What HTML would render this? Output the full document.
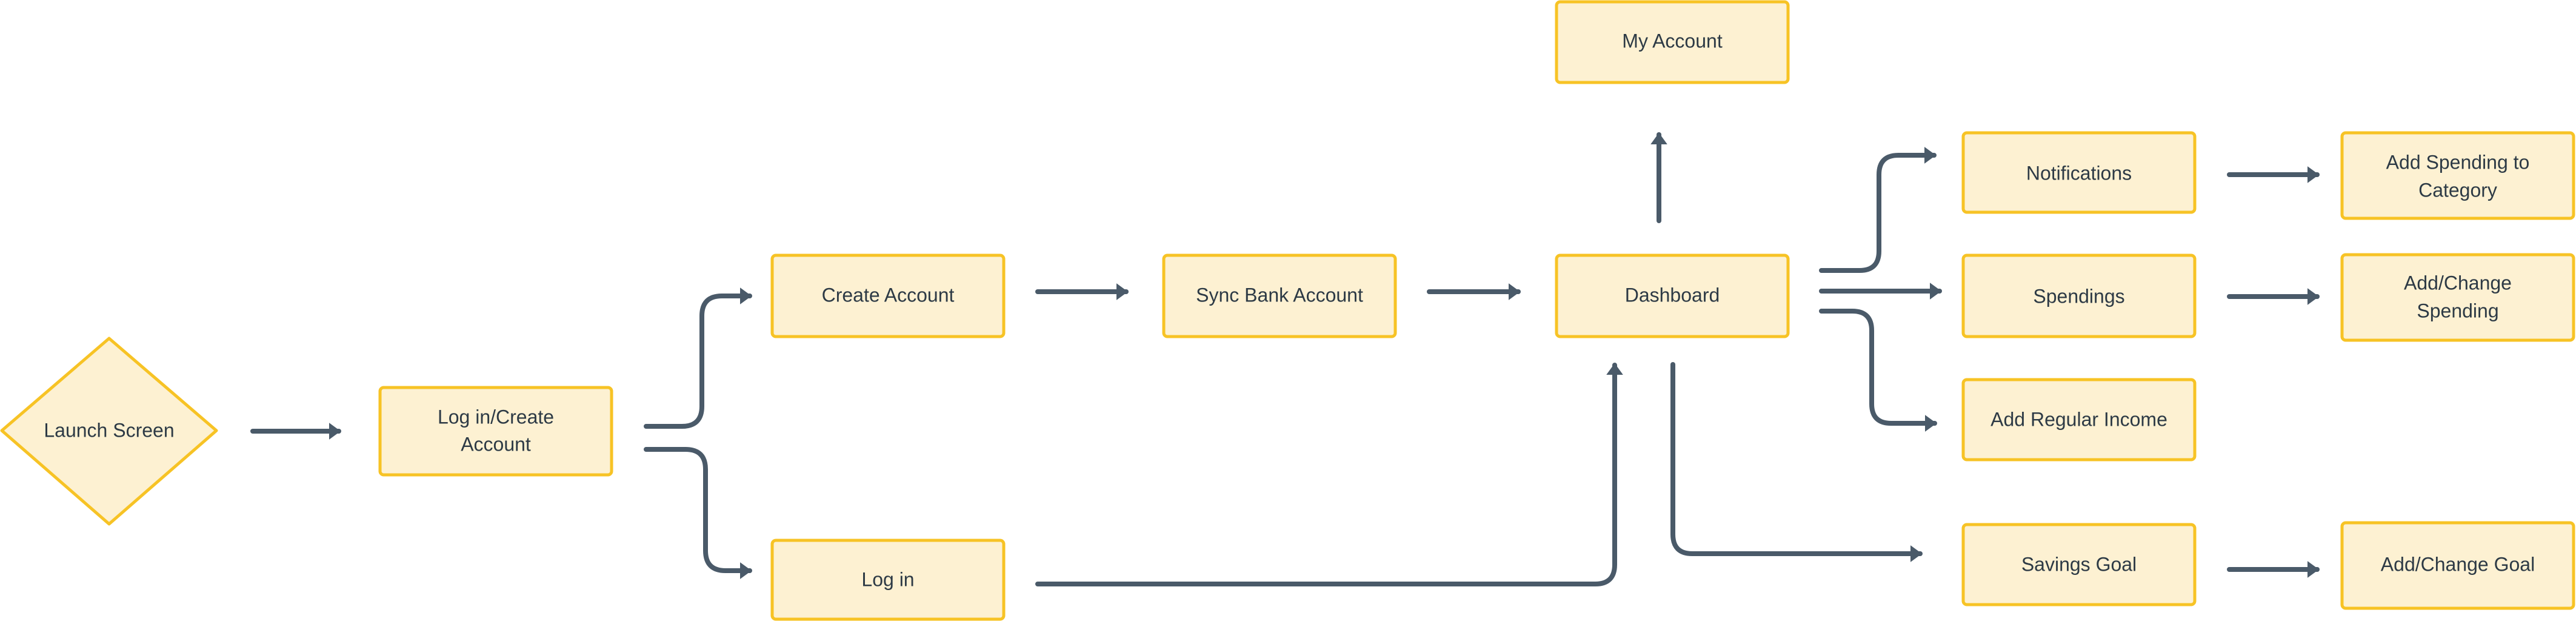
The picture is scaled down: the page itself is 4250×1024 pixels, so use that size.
<!DOCTYPE html>
<html><head><meta charset="utf-8"><style>
html,body{margin:0;padding:0;background:#fff;width:4250px;height:1024px;overflow:hidden}
svg text{font-family:"Liberation Sans",sans-serif;font-size:32px;fill:#2d3a45;text-anchor:middle;dominant-baseline:middle}
</style></head><body>
<svg width="4250" height="1024" viewBox="0 0 4250 1024" xmlns="http://www.w3.org/2000/svg">
<defs>
<marker id="a" markerWidth="6" markerHeight="6" refX="2.0" refY="3" orient="auto" markerUnits="strokeWidth">
<path d="M0,1.4 L2.2,3 L0,4.6 Z" fill="#4a5a69" stroke="#4a5a69" stroke-width="0.2" stroke-linejoin="round"/>
</marker>
</defs>
<g fill="#fdf1d2" stroke="#f7c325" stroke-width="5">
<path d="M180,558 L357,710 L180,864 L3,710 Z" stroke-linejoin="round"/>
<rect x="627" y="639" width="382" height="144" rx="6"/>
<rect x="1274" y="421" width="382" height="134" rx="6"/>
<rect x="1274" y="891" width="382" height="130" rx="6"/>
<rect x="1920" y="421" width="382" height="134" rx="6"/>
<rect x="2568" y="421" width="382" height="134" rx="6"/>
<rect x="2568" y="3" width="382" height="133" rx="6"/>
<rect x="3239" y="219" width="382" height="131" rx="6"/>
<rect x="3239" y="421" width="382" height="134" rx="6"/>
<rect x="3239" y="626" width="382" height="132" rx="6"/>
<rect x="3239" y="865" width="382" height="132" rx="6"/>
<rect x="3864" y="219" width="382" height="141" rx="6"/>
<rect x="3864" y="420" width="382" height="141" rx="6"/>
<rect x="3864" y="862" width="382" height="141" rx="6"/>
</g>
<g fill="none" stroke="#4a5a69" stroke-width="8" stroke-linecap="round" stroke-linejoin="round">
<path d="M417,711 H559" marker-end="url(#a)"/>
<path d="M1066,703 H1125 Q1158,703 1158,670 V521 Q1158,488 1191,488 H1237" marker-end="url(#a)"/>
<path d="M1066,741 H1131 Q1164,741 1164,774 V908 Q1164,941 1197,941 H1237" marker-end="url(#a)"/>
<path d="M1712,481 H1858" marker-end="url(#a)"/>
<path d="M2358,481 H2505" marker-end="url(#a)"/>
<path d="M1712,963 H2632 Q2664,963 2664,931 V602" marker-end="url(#a)"/>
<path d="M2737,364 V222" marker-end="url(#a)"/>
<path d="M3005,446 H3068 Q3100,446 3100,414 V288 Q3100,256 3132,256 H3191" marker-end="url(#a)"/>
<path d="M3005,480 H3200" marker-end="url(#a)"/>
<path d="M3005,513 H3056 Q3088,513 3088,545 V666 Q3088,698 3120,698 H3192" marker-end="url(#a)"/>
<path d="M2760,601 V881 Q2760,913 2792,913 H3168" marker-end="url(#a)"/>
<path d="M3678,288 H3823" marker-end="url(#a)"/>
<path d="M3678,489 H3823" marker-end="url(#a)"/>
<path d="M3678,939 H3823" marker-end="url(#a)"/>
</g>
<text x="180" y="712">Launch Screen</text>
<text x="818" y="690">Log in/Create</text>
<text x="818" y="735">Account</text>
<text x="1465" y="489">Create Account</text>
<text x="1465" y="958">Log in</text>
<text x="2111" y="489">Sync Bank Account</text>
<text x="2759" y="489">Dashboard</text>
<text x="2759" y="70">My Account</text>
<text x="3430" y="288">Notifications</text>
<text x="3430" y="491">Spendings</text>
<text x="3430" y="694">Add Regular Income</text>
<text x="3430" y="933">Savings Goal</text>
<text x="4055" y="270">Add Spending to</text>
<text x="4055" y="316">Category</text>
<text x="4055" y="469">Add/Change</text>
<text x="4055" y="515">Spending</text>
<text x="4055" y="933">Add/Change Goal</text>
</svg>
</body></html>
